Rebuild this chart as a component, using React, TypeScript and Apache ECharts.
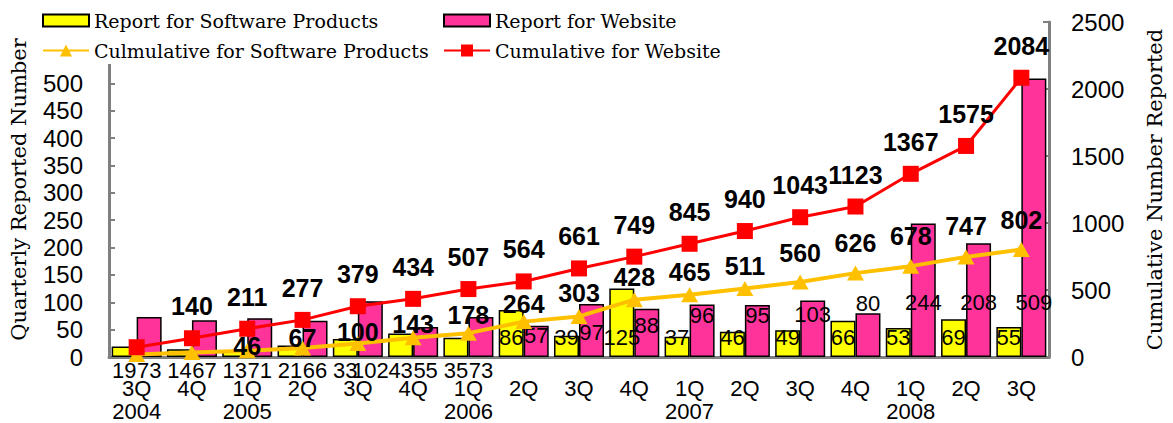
import React, { useEffect, useRef } from "react";
import * as echarts from "echarts";

// ---- data ----
const quarters = ["3Q", "4Q", "1Q", "2Q", "3Q", "4Q", "1Q", "2Q", "3Q", "4Q", "1Q", "2Q", "3Q", "4Q", "1Q", "2Q", "3Q"];
const years = ["2004", "2004", "2005", "2005", "2005", "2005", "2006", "2006", "2006", "2006", "2007", "2007", "2007", "2007", "2008", "2008", "2008"];
const softwareQuarterly = [19, 14, 13, 21, 33, 43, 35, 86, 39, 125, 37, 46, 49, 66, 53, 69, 55];
const websiteQuarterly = [73, 67, 71, 66, 102, 55, 73, 57, 97, 88, 96, 95, 103, 80, 244, 208, 509];
const softwareCumulative = [19, 33, 46, 67, 100, 143, 178, 264, 303, 428, 465, 511, 560, 626, 678, 747, 802];
const websiteCumulative = [73, 140, 211, 277, 379, 434, 507, 564, 661, 749, 845, 940, 1043, 1123, 1367, 1575, 2084];
const leftTicks = { min: 0, interval: 50 };
const rightTicks = { min: 0, max: 2500, interval: 500 };

const NAMES = {
  swBar: "Report for Software Products",
  webBar: "Report for Website",
  swCum: "Culmulative for Software Products",
  webCum: "Cumulative for Website",
};

// label placement styling (pixels), separate from data
const webLabelLift = [0, 0, 0, 0, 0, 0, 0, 11, 14, 21, 31, 31, 32, 43, 44, 44, 44];
const swCumLabelRise = [0, 0, 5, 10, 12, 14, 18, 18, 23, 23, 23, 23, 29, 30, 30, 31, 30];
const belowAxisCount = 7;

const SANS = "'Liberation Sans', Arial, sans-serif";
const SERIF = "'DejaVu Serif', serif";
const GRAY = "#808080";

export default function App() {
  const ref = useRef<HTMLDivElement>(null);

  useEffect(() => {
    if (!ref.current) return;
    const chart = echarts.init(ref.current, undefined, { renderer: "svg" });

    const categories = quarters.map((q, i) => q + " " + years[i]);
    const axisLabelFor = (i: number) => {
      const showYear = i === 0 || quarters[i] === "1Q";
      return showYear ? quarters[i] + "\n" + years[i] : quarters[i];
    };

    const barLabelBase = { show: true, color: "#000", fontFamily: SANS, fontSize: 22 };

    const swBarData = softwareQuarterly.map((v, i) => ({
      value: v,
      label:
        i < belowAxisCount
          ? { ...barLabelBase, position: "bottom", distance: 2 }
          : { ...barLabelBase, position: "insideBottom", distance: 9 },
    }));
    const webBarData = websiteQuarterly.map((v, i) => ({
      value: v,
      label:
        i < belowAxisCount
          ? { ...barLabelBase, position: "bottom", distance: 2 }
          : { ...barLabelBase, position: "insideBottom", distance: webLabelLift[i] },
    }));

    const lineLabelBase = {
      color: "#000",
      fontFamily: SANS,
      fontSize: 25,
      fontWeight: "bold",
      position: "inside",
    };
    const webCumData = websiteCumulative.map((v, i) => ({
      value: v,
      label: { ...lineLabelBase, show: i > 0, offset: [0, -32] },
    }));
    const swCumData = softwareCumulative.map((v, i) => ({
      value: v,
      label: { ...lineLabelBase, show: i > 1, offset: [0, -swCumLabelRise[i]] },
    }));

    const legendBase = {
      z: 10,
      padding: 0,
      itemWidth: 46,
      itemHeight: 12,
      textStyle: { fontFamily: SERIF, fontSize: 19, color: "#000" },
      selectedMode: false,
    };

    chart.setOption({
      animation: false,
      backgroundColor: "#fff",
      grid: { left: 108, right: 123, top: 22, bottom: 66 },
      legend: [
        { ...legendBase, left: 42, top: 11, data: [{ name: NAMES.swBar, icon: "rect" }] },
        { ...legendBase, left: 443, top: 11, data: [{ name: NAMES.webBar, icon: "rect" }] },
        { ...legendBase, left: 42, top: 41, itemHeight: 15, data: [NAMES.swCum] },
        { ...legendBase, left: 443, top: 41, itemHeight: 15, data: [NAMES.webCum] },
      ],
      graphic: {
        elements: [
          {
            type: "rect",
            z: 5,
            shape: { x: 30, y: 0, width: 810, height: 64 },
            style: { fill: "#fff" },
          },
        ],
      },
      xAxis: {
        type: "category",
        data: categories,
        axisLine: { lineStyle: { color: GRAY, width: 3 } },
        axisTick: { show: false },
        axisLabel: {
          interval: 0,
          margin: 20,
          color: "#000",
          fontFamily: SANS,
          fontSize: 22,
          lineHeight: 23,
          formatter: (_v: string, i: number) => axisLabelFor(i),
        },
      },
      yAxis: [
        {
          type: "value",
          min: leftTicks.min,
          max: 612,
          interval: leftTicks.interval,
          name: "Quarterly Reported Number",
          nameLocation: "middle",
          nameGap: 80,
          nameRotate: 90,
          nameTextStyle: { fontFamily: SERIF, fontSize: 21, color: "#000" },
          axisLine: { show: true, lineStyle: { color: GRAY, width: 3 } },
          axisTick: { show: true, inside: true, length: 6, lineStyle: { color: GRAY, width: 2 } },
          splitLine: { show: false },
          axisLabel: {
            margin: 26,
            color: "#000",
            fontFamily: SANS,
            fontSize: 24,
            formatter: (v: number) => (v % leftTicks.interval === 0 ? String(v) : ""),
          },
        },
        {
          type: "value",
          min: rightTicks.min,
          max: rightTicks.max,
          interval: rightTicks.interval,
          position: "right",
          name: "Cumulative Number Reported",
          nameLocation: "middle",
          nameGap: 95,
          nameRotate: 90,
          nameTextStyle: { fontFamily: SERIF, fontSize: 21, color: "#000" },
          axisLine: { show: true, lineStyle: { color: GRAY, width: 3 } },
          axisTick: { show: true, inside: true, length: 6, lineStyle: { color: GRAY, width: 2 } },
          splitLine: { show: false },
          axisLabel: {
            margin: 22,
            color: "#000",
            fontFamily: SANS,
            fontSize: 24,
            formatter: (v: number) => String(v),
          },
        },
      ],
      series: [
        {
          name: NAMES.swBar,
          type: "bar",
          yAxisIndex: 0,
          barWidth: 25,
          barGap: "0%",
          itemStyle: { color: "#FFFF00", borderColor: "#000", borderWidth: 1.5 },
          data: swBarData,
        },
        {
          name: NAMES.webBar,
          type: "bar",
          yAxisIndex: 0,
          barWidth: 25,
          barGap: "0%",
          itemStyle: { color: "#FF3399", borderColor: "#000", borderWidth: 1.5 },
          data: webBarData,
        },
        {
          name: NAMES.swCum,
          type: "line",
          yAxisIndex: 1,
          symbol: "triangle",
          symbolSize: [17, 15],
          color: "#FFC000",
          lineStyle: { color: "#FFC000", width: 4 },
          itemStyle: { color: "#FFC000" },
          z: 3,
          data: swCumData,
        },
        {
          name: NAMES.webCum,
          type: "line",
          yAxisIndex: 1,
          symbol: "rect",
          symbolSize: 16,
          color: "#FF0000",
          lineStyle: { color: "#FF0000", width: 3 },
          itemStyle: { color: "#FF0000" },
          z: 4,
          data: webCumData,
        },
      ],
    });

    return () => chart.dispose();
  }, []);

  return (
    <div
      ref={ref}
      style={{ position: "absolute", left: 0, top: 0, width: 1173, height: 423, background: "#fff" }}
    />
  );
}
